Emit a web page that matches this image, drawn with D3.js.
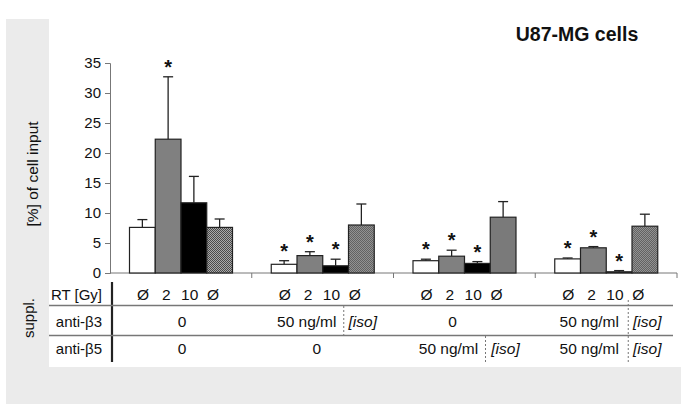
<!DOCTYPE html>
<html><head><meta charset="utf-8">
<script src="https://cdn.jsdelivr.net/npm/d3@7"></script>
<style>
html,body{margin:0;padding:0;background:#fff;}
text{font-family:"Liberation Sans",Arial,sans-serif;fill:#111;}
</style></head>
<body><svg id="c" width="685" height="412"></svg>
<script>
// ---- data ----
const groups = ["G1","G2","G3","G4"];
const treatments = ["ctrl","2Gy","10Gy","iso"];
const rtLabels = ["Ø","2","10","Ø"];
const means = [
  [7.6, 22.3, 11.7, 7.6],
  [1.45, 2.9, 1.2, 8.0],
  [2.05, 2.8, 1.6, 9.3],
  [2.35, 4.2, 0.2, 7.8]
];
const errUpper = [
  [8.9, 32.7, 16.1, 9.0],
  [2.05, 3.55, 2.3, 11.5],
  [2.3, 3.8, 1.9, 11.9],
  [2.5, 4.4, 0.4, 9.8]
];
const significant = [
  [false, true, false, false],
  [true, true, true, false],
  [true, true, true, false],
  [true, true, true, false]
];
const yTicks = [0,5,10,15,20,25,30,35];
const rowLabels = ["RT [Gy]","anti-β3","anti-β5"];
// table cells: [group, row, text, xOffsetWithinGroup, italic]
const tableCells = [
  [0,1,"0",72,false],[0,2,"0",72,false],
  [1,1,"50 ng/ml",55,false],[1,1,"[iso]",111,true],[1,2,"0",65,false],
  [2,1,"0",59,false],[2,2,"50 ng/ml",55,false],[2,2,"[iso]",112,true],
  [3,1,"50 ng/ml",54,false],[3,1,"[iso]",112,true],
  [3,2,"50 ng/ml",54,false],[3,2,"[iso]",112,true]
];
// dashed separators: [group, xOffset, fromRow, toRow]
const separators = [[1,92,1,1],[2,92,2,2],[3,93,1,2]];

// ---- drawing ----
const svg = d3.select("#c");
const fills = ["#ffffff","#808080","#000000","url(#hatch)"];

const defs = svg.append("defs");
const pat = defs.append("pattern").attr("id","hatch").attr("patternUnits","userSpaceOnUse")
  .attr("width",2).attr("height",2);
pat.append("rect").attr("width",2).attr("height",2).attr("fill","#aaaaaa");
pat.append("rect").attr("width",1).attr("height",1).attr("fill","#4a4a4a");
pat.append("rect").attr("x",1).attr("y",1).attr("width",1).attr("height",1).attr("fill","#4a4a4a");

// background
svg.append("rect").attr("x",6).attr("y",19).attr("width",675).attr("height",385).attr("fill","#ebebeb");
svg.append("rect").attr("x",49).attr("y",0).attr("width",636).attr("height",367).attr("fill","#fff");

const x = d3.scaleBand().domain(groups).range([110,677]);
const xi = d3.scaleBand().domain(treatments).range([19.5,122.5]);
const xl = d3.scalePoint().domain(d3.range(4)).range([33,103]);
const y = d3.scaleLinear().domain([0,35]).range([273,63]);

// y axis
const ya = svg.append("g").attr("transform","translate(110,0)")
  .call(d3.axisLeft(y).tickValues(yTicks).tickSize(5).tickPadding(4));
ya.select(".domain").attr("stroke","#777");
ya.selectAll(".tick line").attr("stroke","#777");
ya.selectAll(".tick text").attr("font-size",15).attr("font-family","Liberation Sans, Arial, sans-serif").attr("fill","#111");

// x axis
const xa = svg.append("g").attr("transform","translate(0,273)");
xa.append("line").attr("x1",110).attr("x2",677).attr("stroke","#777");
groups.forEach(g=>{
  xa.append("line").attr("x1",x(g)+x.bandwidth()).attr("x2",x(g)+x.bandwidth())
    .attr("y1",0).attr("y2",5).attr("stroke","#777");
});

// bars
groups.forEach((g,gi)=>{
  const gg = svg.append("g").attr("transform",`translate(${x(g)},0)`);
  treatments.forEach((t,ti)=>{
    const v = means[gi][ti], e = errUpper[gi][ti];
    const cx = xi(t)+xi.bandwidth()/2;
    gg.append("line").attr("x1",cx).attr("x2",cx).attr("y1",y(v)).attr("y2",y(e))
      .attr("stroke","#222").attr("stroke-width",1.3);
    gg.append("line").attr("x1",cx-5).attr("x2",cx+5).attr("y1",y(e)).attr("y2",y(e))
      .attr("stroke","#222").attr("stroke-width",1.3);
    gg.append("rect").attr("x",xi(t)).attr("width",xi.bandwidth())
      .attr("y",y(v)).attr("height",y(0)-y(v))
      .attr("fill",fills[ti]).attr("stroke","#222").attr("stroke-width",1.2);
    if (significant[gi][ti]) {
      gg.append("text").attr("x",cx).attr("y",y(e)-3).attr("text-anchor","middle")
        .attr("font-size",20).attr("font-weight","bold").text("*");
    }
  });
});

// title & y label
svg.append("text").attr("x",577).attr("y",41).attr("text-anchor","middle")
  .attr("font-size",19.5).attr("font-weight","bold").text("U87-MG cells");
svg.append("text").attr("transform","translate(38,174) rotate(-90)").attr("text-anchor","middle")
  .attr("font-size",15.5).text("[%] of cell input");
svg.append("text").attr("transform","translate(34,318) rotate(-90)").attr("text-anchor","middle")
  .attr("font-size",15).text("suppl.");

// table
const rowY = [295,322,349];
svg.append("line").attr("x1",112).attr("x2",112).attr("y1",282).attr("y2",362)
  .attr("stroke","#222").attr("stroke-width",2.2);
[305.5,335.5].forEach(yy=>svg.append("line").attr("x1",49).attr("x2",673).attr("y1",yy).attr("y2",yy)
  .attr("stroke","#777").attr("stroke-width",1.6));
rowLabels.forEach((r,i)=>svg.append("text").attr("x",102).attr("y",rowY[i]).attr("dy","0.35em")
  .attr("text-anchor","end").attr("font-size",15).text(r));
groups.forEach(g=>{
  rtLabels.forEach((l,i)=>svg.append("text").attr("x",x(g)+xl(i)).attr("y",rowY[0]).attr("dy","0.35em")
    .attr("text-anchor","middle").attr("font-size",15.5).text(l));
});
tableCells.forEach(([gi,ri,t,off,it])=>{
  svg.append("text").attr("x",x(groups[gi])+off).attr("y",rowY[ri]).attr("dy","0.35em")
    .attr("text-anchor","middle").attr("font-size",15.5).attr("font-style",it?"italic":"normal").text(t);
});
const rowTop = [282,306,336], rowBot=[305,335,364];
separators.forEach(([gi,off,r0,r1])=>{
  const xx = x(groups[gi])+off;
  svg.append("line").attr("x1",xx).attr("x2",xx).attr("y1",rowTop[r0]-(r0===1&&r1===2?6:0)).attr("y2",rowBot[r1])
    .attr("stroke","#777").attr("stroke-width",1).attr("stroke-dasharray","2,2");
});
</script></body></html>
